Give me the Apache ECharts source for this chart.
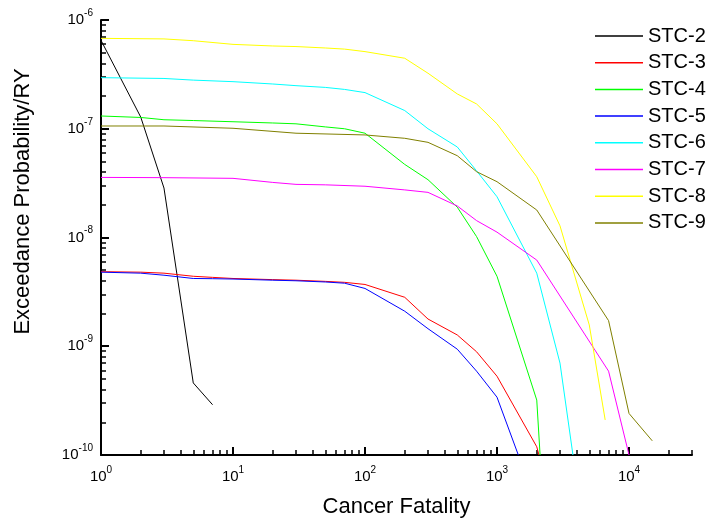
<!DOCTYPE html>
<html>
<head>
<meta charset="utf-8">
<script src="https://cdn.jsdelivr.net/npm/echarts@6/dist/echarts.min.js"></script>
<style>
html,body{margin:0;padding:0;background:#fff;}
#chart{width:710px;height:527px;}
</style>
</head>
<body>
<div id="chart"></div>
<script>
// ---- data (x: cancer fatality, y: exceedance probability / RY) ----
const seriesNames = ['STC-2','STC-3','STC-4','STC-5','STC-6','STC-7','STC-8','STC-9'];
const seriesColors = ['#000000','#ff0000','#00ff00','#0000ff','#00ffff','#ff00ff','#ffff00','#808000'];

const stc2 = [[1,6.5e-7],[2,1.28e-7],[3,2.85e-8],[5,4.6e-10],[7,2.9e-10]];
const stc3 = [[1,4.85e-9],[2,4.8e-9],[3,4.7e-9],[5,4.4e-9],[7,4.3e-9],[10,4.2e-9],[20,4.1e-9],[30,4.05e-9],[50,3.95e-9],[70,3.87e-9],[100,3.7e-9],[200,2.82e-9],[300,1.78e-9],[500,1.27e-9],[700,8.9e-10],[1000,5.3e-10],[2000,1.19e-10],[2080,1e-10]];
const stc4 = [[1,1.31e-7],[2,1.27e-7],[3,1.21e-7],[5,1.19e-7],[10,1.16e-7],[20,1.13e-7],[30,1.11e-7],[50,1.04e-7],[70,1.0e-7],[100,9.1e-8],[200,4.7e-8],[300,3.4e-8],[500,1.9e-8],[700,1.02e-8],[1000,4.4e-9],[2000,3.2e-10],[2120,1e-10]];
const stc5 = [[1,4.8e-9],[2,4.7e-9],[3,4.5e-9],[5,4.2e-9],[7,4.18e-9],[10,4.15e-9],[20,4.05e-9],[30,4.0e-9],[50,3.9e-9],[70,3.8e-9],[100,3.4e-9],[200,2.1e-9],[300,1.45e-9],[500,9.4e-10],[700,5.9e-10],[1000,3.4e-10],[1450,1e-10]];
const stc6 = [[1,2.95e-7],[3,2.9e-7],[5,2.8e-7],[10,2.71e-7],[20,2.58e-7],[30,2.49e-7],[50,2.4e-7],[70,2.3e-7],[100,2.15e-7],[200,1.47e-7],[300,1.0e-7],[500,6.8e-8],[700,4.1e-8],[1000,2.37e-8],[2000,4.7e-9],[3000,7.0e-10],[3760,1e-10]];
const stc7 = [[1,3.57e-8],[3,3.55e-8],[10,3.5e-8],[20,3.21e-8],[30,3.08e-8],[50,3.05e-8],[100,2.96e-8],[200,2.74e-8],[300,2.6e-8],[500,1.95e-8],[700,1.43e-8],[1000,1.12e-8],[2000,6.2e-9],[7000,5.9e-10],[10000,1e-10]];
const stc8 = [[1,6.78e-7],[3,6.7e-7],[5,6.45e-7],[10,5.97e-7],[20,5.77e-7],[30,5.7e-7],[50,5.53e-7],[70,5.4e-7],[100,5.12e-7],[200,4.45e-7],[300,3.24e-7],[500,2.09e-7],[700,1.69e-7],[1000,1.11e-7],[2000,3.62e-8],[3000,1.28e-8],[5000,1.57e-9],[6600,2.1e-10]];
const stc9 = [[1,1.06e-7],[3,1.06e-7],[10,1.01e-7],[30,9.1e-8],[100,8.77e-8],[200,8.17e-8],[300,7.5e-8],[500,5.65e-8],[700,4.03e-8],[1000,3.26e-8],[2000,1.79e-8],[7000,1.72e-9],[10000,2.41e-10],[15000,1.35e-10]];
const seriesData = [stc2, stc3, stc4, stc5, stc6, stc7, stc8, stc9];

// ---- axis ticks ----
const xMin = 1, xMax = 30000;
const yMin = 1e-10, yMax = 1e-6;
const xMajorTicks = [1, 10, 100, 1000, 10000];
const xMinorTicks = [2,3,4,5,6,7,8,9,20,30,40,50,60,70,80,90,200,300,400,500,600,700,800,900,2000,3000,4000,5000,6000,7000,8000,9000,20000,30000];
const yMajorTicks = [1e-10, 1e-9, 1e-8, 1e-7, 1e-6];
const yMinorTicks = [];
[-10,-9,-8,-7].forEach(function(e){ for (let k = 2; k <= 9; k++) yMinorTicks.push(parseFloat((k + 'e' + e))); });

const xTitle = 'Cancer Fatality';
const yTitle = 'Exceedance Probability/RY';

const font = 'Liberation Sans, Arial, sans-serif';
function powLabel(v) {
  const e = Math.round(Math.log10(v));
  return '{b|10}{s|' + e + '}';
}
const richLabel = {
  b: {fontSize: 15, color: '#000', fontFamily: font},
  s: {fontSize: 10, color: '#000', fontFamily: font, padding: [0, 0, 14, 0]}
};

const chart = echarts.init(document.getElementById('chart'), null, {renderer: 'canvas'});

const option = {
  backgroundColor: '#ffffff',
  animation: false,
  grid: {left: 101, top: 20, right: 18, bottom: 72, containLabel: false, outerBoundsMode: 'none'},
  legend: {
    orient: 'vertical',
    left: 595,
    top: 26,
    padding: 0,
    icon: 'rect',
    itemWidth: 48,
    itemHeight: 1.5,
    itemGap: 6.7,
    textStyle: {fontSize: 20, lineHeight: 20, color: '#000', fontFamily: font},
    data: seriesNames
  },
  xAxis: [
    {
      type: 'log', logBase: 10, min: xMin, max: xMax, position: 'bottom',
      name: xTitle, nameLocation: 'middle', nameGap: 41,
      nameTextStyle: {fontSize: 22, color: '#000', fontFamily: font},
      axisLine: {show: true, lineStyle: {color: '#000', width: 2}},
      axisTick: {show: true, inside: true, length: 8, lineStyle: {color: '#000', width: 2}, customValues: xMajorTicks},
      axisLabel: {show: true, margin: 10, formatter: powLabel, rich: richLabel, customValues: xMajorTicks},
      splitLine: {show: false},
      minorTick: {show: false}
    },
    {
      type: 'log', logBase: 10, min: xMin, max: xMax, position: 'bottom',
      axisLine: {show: false},
      axisTick: {show: true, inside: true, length: 5, lineStyle: {color: '#000', width: 1.5}, customValues: xMinorTicks},
      axisLabel: {show: false},
      splitLine: {show: false}
    }
  ],
  yAxis: [
    {
      type: 'log', logBase: 10, min: yMin, max: yMax, position: 'left',
      name: yTitle, nameLocation: 'middle', nameGap: 67, nameRotate: 90,
      nameTextStyle: {fontSize: 22, color: '#000', fontFamily: font, padding: [0, 0, 0, 72]},
      axisLine: {show: true, lineStyle: {color: '#000', width: 2}},
      axisTick: {show: true, inside: true, length: 8, lineStyle: {color: '#000', width: 2}, customValues: yMajorTicks},
      axisLabel: {show: true, margin: 8, formatter: powLabel, rich: richLabel, customValues: yMajorTicks},
      splitLine: {show: false}
    },
    {
      type: 'log', logBase: 10, min: yMin, max: yMax, position: 'left',
      axisLine: {show: false},
      axisTick: {show: true, inside: true, length: 5, lineStyle: {color: '#000', width: 1.5}, customValues: yMinorTicks},
      axisLabel: {show: false},
      splitLine: {show: false}
    }
  ],
  series: seriesNames.map(function(n, i) {
    return {
      name: n, type: 'line', xAxisIndex: 0, yAxisIndex: 0,
      data: seriesData[i], symbol: 'none', smooth: false, clip: true,
      color: seriesColors[i],
      itemStyle: {color: seriesColors[i]},
      lineStyle: {color: seriesColors[i], width: 1}
    };
  })
};
chart.setOption(option);
</script>
</body>
</html>
